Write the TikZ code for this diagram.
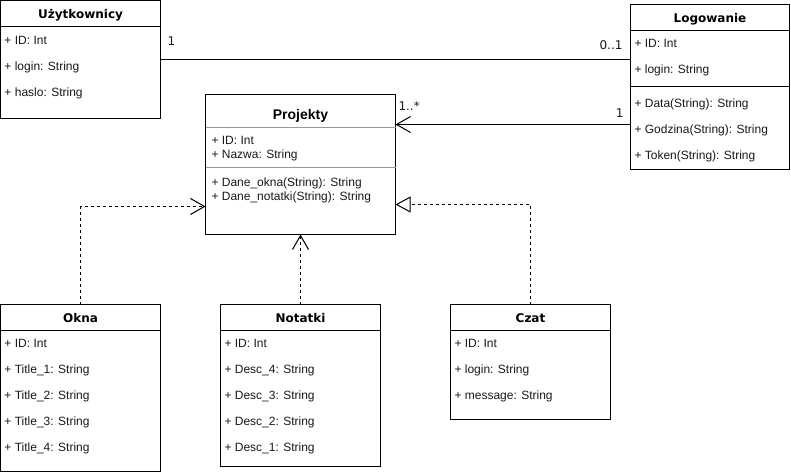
\documentclass[tikz,border=0pt]{standalone}
\usepackage{fontspec}
\setmainfont{Liberation Sans}
\newfontfamily\dvsfont{DejaVu Sans}
\usetikzlibrary{arrows.meta}
\begin{document}
\begin{tikzpicture}[x=1pt,y=-1pt,
  font=\fontsize{12}{14}\selectfont,
  line width=1pt,
  classbox/.style={draw=black, fill=white, anchor=north west, inner sep=0pt, outer sep=0pt},
  ctitle/.style={font=\dvsfont\fontsize{12}{14}\selectfont\bfseries, inner sep=0pt, anchor=base},
  ptitle/.style={font=\fontsize{14}{16}\selectfont\bfseries, inner sep=0pt, anchor=base},
  field/.style={anchor=base west, inner sep=0pt, text=black!90},
  sepline/.style={draw=black},
  graysep/.style={draw=black!40},
  mult/.style={font=\dvsfont\fontsize{12}{14}\selectfont, inner sep=0pt, text=black!90},
  assoc/.style={draw=black},
  navig/.style={draw=black, -{Straight Barb[length=14pt,width=16pt,line width=1pt]}},
  dep/.style={draw=black, dash pattern=on 3pt off 3pt, -{Straight Barb[length=14pt,width=16pt,line width=1pt]}},
  real/.style={draw=black, dash pattern=on 3pt off 3pt, -{Triangle[open,length=15pt,width=16pt,line width=1pt,fill=white]}}
]
\useasboundingbox (0,0) rectangle (791,473);

% Uzytkownicy
\node[classbox, minimum width=160pt, minimum height=118pt] (u) at (0.5,0.5) {};
\node[ctitle] (ut) at (80.5,18.5) {Użytkownicy};
\draw[sepline] ([yshift=-26pt]u.north west) -- ([yshift=-26pt]u.north east);
\node[field] (u1) at (4,44.5) {+ ID: Int};
\node[field] (u2) at (4,70.5) {+ login: String};
\node[field] (u3) at (4,96.5) {+ haslo: String};

% Logowanie
\node[classbox, minimum width=159pt, minimum height=165pt] (l) at (630.5,4.5) {};
\node[ctitle] (lt) at (710,22.5) {Logowanie};
\draw[sepline] ([yshift=-26pt]l.north west) -- ([yshift=-26pt]l.north east);
\node[field] (l1) at (634,47.5) {+ ID: Int};
\node[field] (l2) at (634,73.5) {+ login: String};
\draw[sepline] ([yshift=-82pt]l.north west) -- ([yshift=-82pt]l.north east);
\node[field] (l3) at (634,107.5) {+ Data(String): String};
\node[field] (l4) at (634,133.5) {+ Godzina(String): String};
\node[field] (l5) at (634,159.5) {+ Token(String): String};

% Projekty
\node[classbox, minimum width=190pt, minimum height=140pt] (pj) at (205.5,94.5) {};
\node[ptitle] (pt) at (300.5,120) {Projekty};
\draw[graysep] ([yshift=-33pt]pj.north west) -- ([yshift=-33pt]pj.north east);
\node[field] (p1) at (211,144.5) {+ ID: Int};
\node[field] (p2) at (211,159) {+ Nazwa: String};
\draw[graysep] ([yshift=-73pt]pj.north west) -- ([yshift=-73pt]pj.north east);
\node[field] (p3) at (211,186) {+ Dane\_okna(String): String};
\node[field] (p4) at (211,200) {+ Dane\_notatki(String): String};

% Okna
\node[classbox, minimum width=160pt, minimum height=167pt] (ok) at (0.5,304.5) {};
\node[ctitle] (okt) at (80.5,322.5) {Okna};
\draw[sepline] ([yshift=-26pt]ok.north west) -- ([yshift=-26pt]ok.north east);
\node[field] (o1) at (4,347.5) {+ ID: Int};
\node[field] (o2) at (4,373.5) {+ Title\_1: String};
\node[field] (o3) at (4,399.5) {+ Title\_2: String};
\node[field] (o4) at (4,425.5) {+ Title\_3: String};
\node[field] (o5) at (4,451.5) {+ Title\_4: String};

% Notatki
\node[classbox, minimum width=160pt, minimum height=162pt] (nt) at (220.5,304.5) {};
\node[ctitle] (ntt) at (300.5,322.5) {Notatki};
\draw[sepline] ([yshift=-26pt]nt.north west) -- ([yshift=-26pt]nt.north east);
\node[field] (n1) at (224,347.5) {+ ID: Int};
\node[field] (n2) at (224,373.5) {+ Desc\_4: String};
\node[field] (n3) at (224,399.5) {+ Desc\_3: String};
\node[field] (n4) at (224,425.5) {+ Desc\_2: String};
\node[field] (n5) at (224,451.5) {+ Desc\_1: String};

% Czat
\node[classbox, minimum width=160pt, minimum height=115pt] (cz) at (450.5,304.5) {};
\node[ctitle] (czt) at (530.5,322.5) {Czat};
\draw[sepline] ([yshift=-26pt]cz.north west) -- ([yshift=-26pt]cz.north east);
\node[field] (c1) at (454,347.5) {+ ID: Int};
\node[field] (c2) at (454,373.5) {+ login: String};
\node[field] (c3) at (454,399.5) {+ message: String};

% helper coordinates for connector heights
\coordinate (yA) at (0,59.5);
\coordinate (yB) at (0,124.5);
\coordinate (yC) at (0,206.5);
\coordinate (yD) at (0,204.5);

% connectors
\draw[assoc] (u.east |- yA) -- (l.west |- yA);
\node[mult, anchor=base west] (m1) at (167,46) {1};
\node[mult, anchor=base east] (m2) at (623,50) {0..1};

\draw[navig] (l.west |- yB) -- (pj.east |- yB);
\node[mult, anchor=base west] (m3) at (398,111) {1..*};
\node[mult, anchor=base east] (m4) at (624,118) {1};

\draw[dep] (ok.north) -- (ok.north |- yC) -- (pj.west |- yC);
\draw[dep] (nt.north) -- (pj.south);
\draw[real] (cz.north) -- (cz.north |- yD) -- (pj.east |- yD);
\end{tikzpicture}
\end{document}
